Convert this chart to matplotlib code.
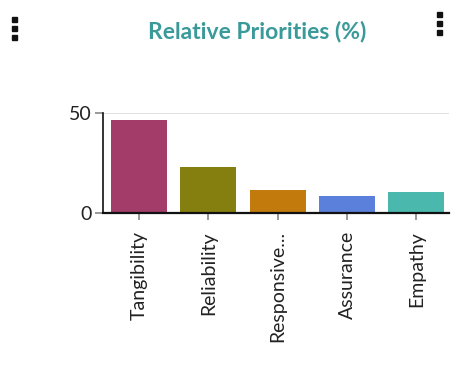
import matplotlib
matplotlib.use("Agg")
import matplotlib.pyplot as plt
from matplotlib.patches import Rectangle
from matplotlib import font_manager

categories = ["Tangibility", "Reliability", "Responsive...", "Assurance", "Empathy"]
values = [46.4, 23.1, 11.7, 8.4, 10.6]
colors = ["#a33c68", "#857f0f", "#c27a0c", "#5b80db", "#4bb8ad"]
yticks = [0, 50]

names = {f.name for f in font_manager.fontManager.ttflist}
narrow = "Liberation Sans Narrow" in names
plt.rcParams['font.family'] = ['Lato', 'DejaVu Sans']
label_family = ['Liberation Sans Narrow', 'Lato', 'DejaVu Sans'] if narrow else ['Lato', 'DejaVu Sans']
label_size = 16 if narrow else 14

fig = plt.figure(figsize=(4.56, 3.75), dpi=100)
ax = fig.add_axes([103/456, 1-213/375, (449-103)/456, 100/375])

x = list(range(len(categories)))
ax.bar(x, values, width=0.81, color=colors, zorder=2)
ax.set_xlim(-0.52, 4.47)
ax.set_ylim(0, 50)
ax.set_yticks(yticks)
ax.set_yticklabels([str(v) for v in yticks], fontsize=14, color="#222222")
ax.set_xticks(x)
ax.set_xticklabels(categories, rotation=90, fontsize=label_size, color="#222222",
                   family=label_family)
ax.axhline(50, color="#dddddd", lw=1.2, zorder=1)

for s in ["top", "right"]:
    ax.spines[s].set_visible(False)
ax.spines["left"].set_color("#111111")
ax.spines["left"].set_linewidth(1.2)
ax.spines["bottom"].set_color("#111111")
ax.spines["bottom"].set_linewidth(1.6)
ax.tick_params(axis="y", length=6, width=1.2, color="#888888", pad=2)
ax.tick_params(axis="x", length=5, width=1.2, color="#888888", pad=8)

fig.text(257/456, 1-31/375, "Relative Priorities (%)", ha="center", va="center",
         fontsize=16.5, color="#3a9a9a", fontweight="bold")

# kebab menu icons
for cx, cys in [(15, [19, 28, 37]), (440, [14, 23, 32])]:
    for cy in cys:
        fig.add_artist(Rectangle(((cx-2.5)/456, 1-(cy+2.5)/375), 5/456, 5/375,
                                 transform=fig.transFigure, color="#111111"))

fig.savefig("out.png", dpi=100)
